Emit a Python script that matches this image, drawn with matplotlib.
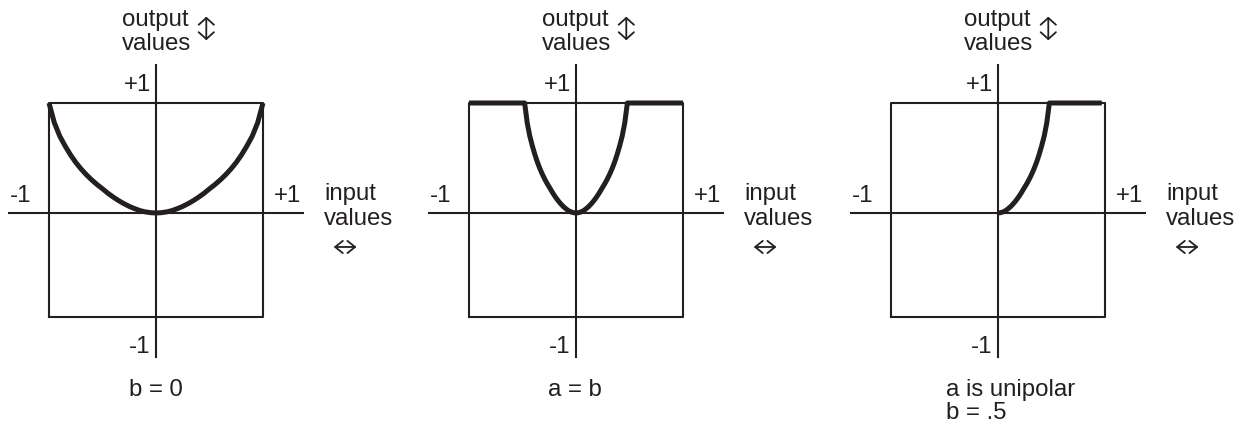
import matplotlib
matplotlib.use("Agg")
import matplotlib.pyplot as plt

plt.rcParams['font.family'] = ['Liberation Sans', 'DejaVu Sans']

INK = '#231f20'

# half-curve (input >= 0 -> output)
half_x = [0.0, 0.05, 0.1, 0.15, 0.2, 0.25, 0.3, 0.35, 0.4, 0.45, 0.5, 0.55, 0.6,
          0.65, 0.7, 0.75, 0.8, 0.85, 0.9, 0.95, 0.975, 1.0]
half_y = [0.0, 0.003, 0.01, 0.022, 0.04, 0.06, 0.085, 0.113, 0.145, 0.18, 0.22,
          0.258, 0.30, 0.347, 0.40, 0.46, 0.53, 0.61, 0.70, 0.82, 0.91, 1.0]

# where the steep curves reach +1 in panels two and three
edge_ab = 0.48
edge_uni = 0.48
flat_end_uni = 0.97

x_b0 = [-v for v in half_x[::-1]] + half_x[1:]
y_b0 = half_y[::-1] + half_y[1:]

x_ab = [-1.0] + [-v * edge_ab for v in half_x[::-1]] + [v * edge_ab for v in half_x[1:]] + [1.0]
y_ab = [1.0] + half_y[::-1] + half_y[1:] + [1.0]

x_uni = [v * edge_uni for v in half_x] + [flat_end_uni]
y_uni = half_y + [1.0]

curves = [(x_b0, y_b0), (x_ab, y_ab), (x_uni, y_uni)]
captions = [["b = 0"], ["a = b"], ["a is unipolar", "b = .5"]]
caption_x = [-0.25, -0.26, -0.49]

fig = plt.figure(figsize=(12.48, 4.24), dpi=100)
W, H = 1248, 424
box_left = [49, 469, 891]

# frame bottom sits a little above -1 in the drawing
BOT = -0.945

FS = 17.3
for i in range(3):
    ax = fig.add_axes([box_left[i] / W, (H - 323) / H, 214 / W, 220 / H])
    ax.set_xlim(-1, 1)
    ax.set_ylim(-1, 1)
    ax.axis('off')

    # frame and axes
    ax.plot([-1, 1, 1, -1, -1], [BOT, BOT, 1, 1, BOT], color=INK, lw=1.5, clip_on=False)
    ax.plot([-1.37, 1.37], [0, 0], color=INK, lw=1.5, clip_on=False)
    ax.plot([0, 0], [-1.31, 1.35], color=INK, lw=1.5, clip_on=False)

    cx, cy = curves[i]
    ax.plot(cx, cy, color=INK, lw=3.6, solid_capstyle='butt',
            solid_joinstyle='round', clip_on=False)

    # tick labels
    ax.text(-0.05, 1.164, "+1", ha='right', va='center', fontsize=FS, color=INK)
    ax.text(-0.05, -1.218, "-1", ha='right', va='center', fontsize=FS, color=INK)
    ax.text(-1.37, 0.055, "-1", ha='left', va='bottom', fontsize=FS, color=INK)
    ax.text(1.10, 0.055, "+1", ha='left', va='bottom', fontsize=FS, color=INK)

    # axis names
    ax.text(1.57, 0.118, "input", ha='left', va='baseline', fontsize=FS, color=INK)
    ax.text(1.57, -0.109, "values", ha='left', va='baseline', fontsize=FS, color=INK)
    ax.annotate('', xy=(1.635, -0.309), xytext=(1.9, -0.309),
                arrowprops=dict(arrowstyle='<->, head_length=0.5, head_width=0.4',
                                lw=1.3, color=INK, mutation_scale=11),
                annotation_clip=False)
    ax.text(-0.32, 1.70, "output", ha='left', va='baseline', fontsize=FS, color=INK)
    ax.text(-0.32, 1.482, "values", ha='left', va='baseline', fontsize=FS, color=INK)
    ax.annotate('', xy=(0.47, 1.81), xytext=(0.47, 1.545),
                arrowprops=dict(arrowstyle='<->, head_length=0.45, head_width=0.5',
                                lw=1.3, color=INK, mutation_scale=11),
                annotation_clip=False)

    for k, line in enumerate(captions[i]):
        ax.text(caption_x[i], -1.664 - 0.209 * k, line, ha='left', va='baseline',
                fontsize=FS, color=INK)

fig.savefig("out.png", dpi=100)
